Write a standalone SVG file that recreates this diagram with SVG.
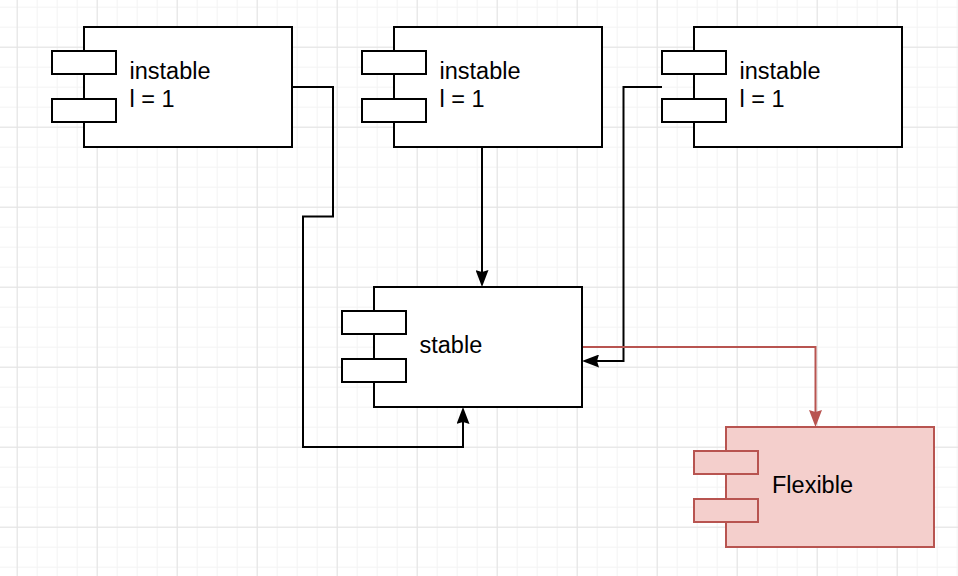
<svg xmlns="http://www.w3.org/2000/svg" width="958" height="576" viewBox="0 0 958 576">
  <defs>
    <pattern id="gridMinor" patternUnits="userSpaceOnUse" x="16.7" y="6.7" width="20" height="20">
      <path d="M0.5,0 V20 M0,0.5 H20" fill="none" stroke="#f3f3f3" stroke-width="1"/>
    </pattern>
    <pattern id="gridMajor" patternUnits="userSpaceOnUse" x="16.7" y="46.7" width="80" height="80">
      <path d="M0.5,0 V80 M0,0.5 H80" fill="none" stroke="#e3e3e3" stroke-width="1"/>
    </pattern>
    <marker id="arrBlack" markerUnits="userSpaceOnUse" viewBox="0 0 17 13" markerWidth="17" markerHeight="13" refX="9" refY="6.5" orient="auto">
      <path d="M0,0 L17,6.5 L0,13 L2,6.5 Z" fill="#000000"/>
    </marker>
    <marker id="arrRed" markerUnits="userSpaceOnUse" viewBox="0 0 17 13" markerWidth="17" markerHeight="13" refX="9" refY="6.5" orient="auto">
      <path d="M0,0 L17,6.5 L0,13 L2,6.5 Z" fill="#b85450"/>
    </marker>
  </defs>
  <style>
    .box { fill: #ffffff; stroke: #000000; stroke-width: 2; }
    .flex { fill: #f4cfcc; stroke: #b85450; stroke-width: 2; }
    .lbl { font-family: "Liberation Sans", Arial, sans-serif; font-size: 23.5px; fill: #000000; }
    .edge { fill: none; stroke: #000000; stroke-width: 2; marker-end: url(#arrBlack); }
    .edgeRed { fill: none; stroke: #b85450; stroke-width: 2; marker-end: url(#arrRed); }
  </style>

  <rect x="0" y="0" width="958" height="576" fill="#ffffff"/>
  <rect x="0" y="0" width="958" height="576" fill="url(#gridMinor)"/>
  <rect x="0" y="0" width="958" height="576" fill="url(#gridMajor)"/>

  <g id="connectors">
    <path class="edge" d="M292,87 H333 V216.5 H303 V447 H463 V415"/>
    <path class="edge" d="M482,147 V279"/>
    <path class="edge" d="M662,87 H623.5 V361 H590"/>
    <path class="edgeRed" d="M582,347 H815.5 V419"/>
  </g>

  <g id="instable1">
    <rect class="box" x="84" y="27" width="208" height="120"/>
    <rect class="box" x="52" y="51" width="64" height="23"/>
    <rect class="box" x="52" y="99" width="64" height="23"/>
    <text class="lbl" x="129.5" y="79.3">instable</text>
    <text class="lbl" x="129.5" y="107.3">l = 1</text>
  </g>

  <g id="instable2">
    <rect class="box" x="394" y="27" width="208" height="120"/>
    <rect class="box" x="362" y="51" width="64" height="23"/>
    <rect class="box" x="362" y="99" width="64" height="23"/>
    <text class="lbl" x="439.5" y="79.3">instable</text>
    <text class="lbl" x="439.5" y="107.3">l = 1</text>
  </g>

  <g id="instable3">
    <rect class="box" x="694" y="27" width="208" height="120"/>
    <rect class="box" x="662" y="51" width="64" height="23"/>
    <rect class="box" x="662" y="99" width="64" height="23"/>
    <text class="lbl" x="739.5" y="79.3">instable</text>
    <text class="lbl" x="739.5" y="107.3">l = 1</text>
  </g>

  <g id="stable">
    <rect class="box" x="374" y="287" width="208" height="120"/>
    <rect class="box" x="342" y="311" width="64" height="23"/>
    <rect class="box" x="342" y="359" width="64" height="23"/>
    <text class="lbl" x="419.5" y="353.3">stable</text>
  </g>

  <g id="flexible">
    <rect class="flex" x="726" y="427" width="208" height="120"/>
    <rect class="flex" x="694" y="451" width="64" height="23"/>
    <rect class="flex" x="694" y="499" width="64" height="23"/>
    <text class="lbl" x="772" y="493.3">Flexible</text>
  </g>
</svg>
